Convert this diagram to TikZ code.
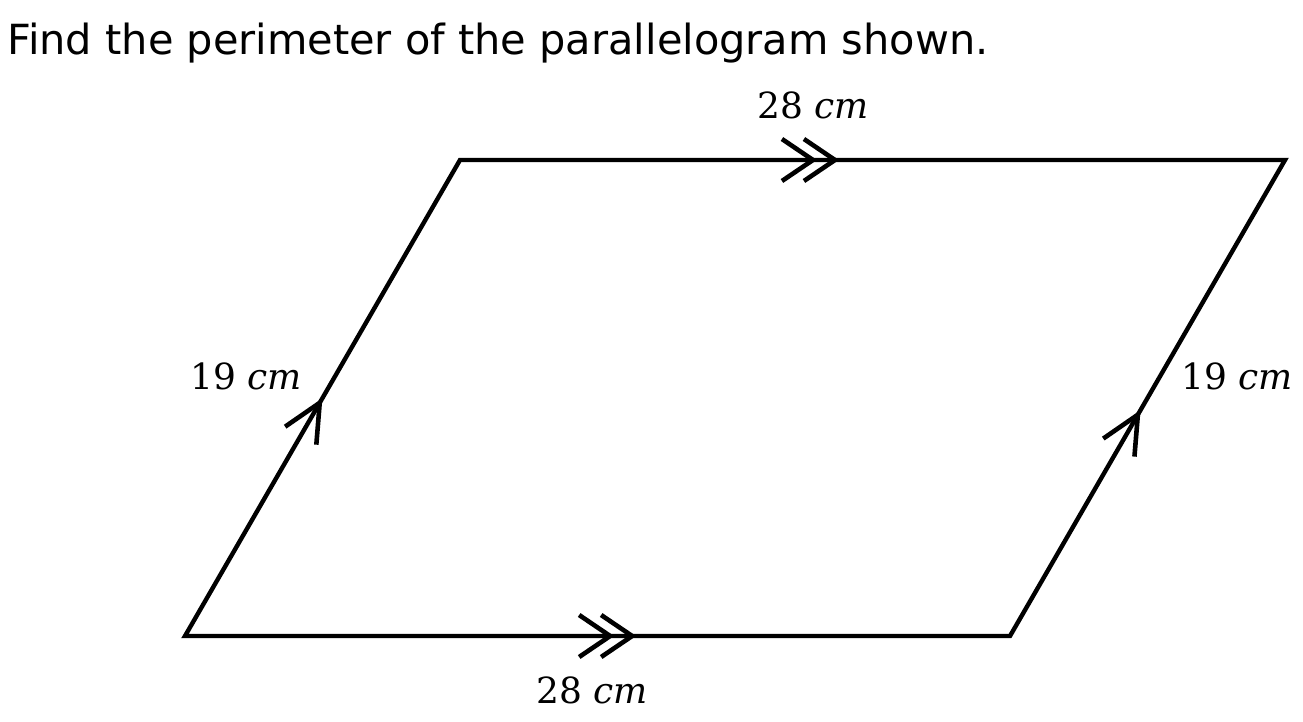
\documentclass[tikz,border=0pt]{standalone}
\usepackage{fontspec}
\newfontfamily\titlefont{DejaVu Sans}
\newfontfamily\lblfont{DejaVu Serif}
\usetikzlibrary{decorations.markings}
\begin{document}
\begin{tikzpicture}[x=1pt,y=1pt,
  edge/.style={line width=4.4pt, line join=miter},
  chev/.style={line width=4.6pt},
  lbl/.style={font=\lblfont\fontsize{36}{40}\selectfont, inner sep=0pt},
  onearrow/.style={postaction={decorate},decoration={markings,
     mark=at position #1 with {\draw[chev] (-38,18) -- (0,0) -- (-38,-18);}}},
  twoarrow/.style={postaction={decorate},decoration={markings,
     mark=at position #1 with {\draw[chev] (-53,21) -- (-22,0) -- (-53,-21);
                               \draw[chev] (-31,21) -- (0,0) -- (-31,-21);}}}]
\useasboundingbox (0,0) rectangle (1303,721);
\node[anchor=base west, inner sep=0pt, font=\titlefont\fontsize{41.5}{48}\selectfont] (title) at (7,666) {Find the perimeter of the parallelogram shown.};
\coordinate (A) at (185,85);
\coordinate (B) at (1010,85);
\coordinate (C) at (1285,561);
\coordinate (D) at (460,561);
\draw[edge] (A) -- (B) -- (C) -- (D) -- cycle;
\path (D) -- (C) [twoarrow=0.4545];
\path (A) -- (B) [twoarrow=0.542];
\path (A) -- (D) [onearrow=0.49];
\path (B) -- (C) [onearrow=0.465];
\node[lbl] (top) at (813,616) {28 \textit{cm}};
\node[lbl] (bot) at (592,31) {28 \textit{cm}};
\node[lbl] (left) at (246,345) {19 \textit{cm}};
\node[lbl] (right) at (1237,345) {19 \textit{cm}};
\end{tikzpicture}
\end{document}
